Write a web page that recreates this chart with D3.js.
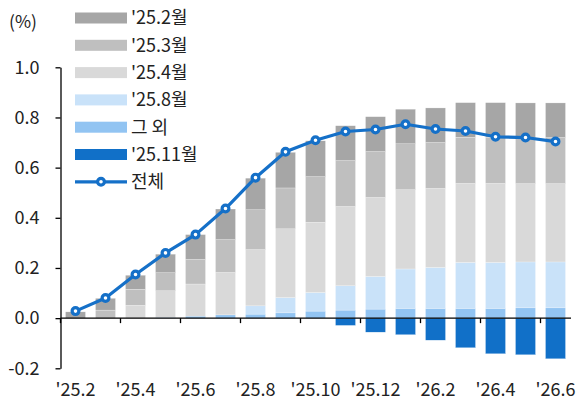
<!DOCTYPE html>
<html><head><meta charset="utf-8">
<script src="https://cdn.jsdelivr.net/npm/d3@7"></script>
<style>
html,body{margin:0;padding:0;background:#fff;}
svg{display:block;font-family:"Noto Sans CJK KR","Noto Sans",sans-serif;}
</style></head>
<body>
<svg id="chart" width="577" height="401"></svg>
<script>
const months = ["'25.2","'25.3","'25.4","'25.5","'25.6","'25.7","'25.8","'25.9","'25.10","'25.11","'25.12","'26.1","'26.2","'26.3","'26.4","'26.5","'26.6"];
const xTickLabels = ["'25.2","'25.4","'25.6","'25.8","'25.10","'25.12","'26.2","'26.4","'26.6"];
const yTicks = [-0.2, 0.0, 0.2, 0.4, 0.6, 0.8, 1.0];

const s2502 = [0.025,0.047,0.056,0.074,0.099,0.122,0.126,0.142,0.143,0.139,0.139,0.138,0.138,0.138,0.138,0.138,0.138];
const s2503 = [0,0.032,0.064,0.072,0.098,0.131,0.159,0.163,0.182,0.183,0.183,0.183,0.183,0.184,0.184,0.184,0.184];
const s2504 = [0,0,0.051,0.106,0.128,0.169,0.224,0.274,0.280,0.316,0.315,0.316,0.315,0.315,0.315,0.312,0.312];
const s2508 = [0,0,0,0,0,0,0.033,0.061,0.074,0.097,0.130,0.157,0.163,0.183,0.183,0.183,0.183];
const sOther = [0,0,0,0.003,0.008,0.013,0.016,0.021,0.028,0.032,0.036,0.039,0.039,0.039,0.039,0.041,0.041];
const s2511 = [0,0,0,0,0,0,0,0,0,-0.029,-0.056,-0.066,-0.088,-0.118,-0.142,-0.146,-0.162];
const total = [0.028,0.080,0.174,0.260,0.333,0.437,0.560,0.663,0.709,0.744,0.752,0.773,0.754,0.746,0.723,0.720,0.704];

const seriesNames = ["'25.2월","'25.3월","'25.4월","'25.8월","그 외","'25.11월"];
const seriesData = [s2502, s2503, s2504, s2508, sOther, s2511];
const colors = ["#a6a6a6","#bfbfbf","#d9d9d9","#c9e2f9","#92c4f2","#1170c8"];
const lineColor = "#1570c8";
const lineName = "전체";

const FS = 18;
const svg = d3.select("#chart");
const x = d3.scaleBand().domain(months).range([60.5, 570.5]).paddingInner(1/3).paddingOuter(1/6);
const y = d3.scaleLinear().domain([-0.2, 1.0]).range([368.3, 67.3]);

const table = months.map((m, i) => {
  const row = {month: m};
  seriesNames.forEach((n, k) => row[n] = seriesData[k][i]);
  return row;
});
const stackOrder = ["그 외","'25.8월","'25.4월","'25.3월","'25.2월","'25.11월"];
const stacked = d3.stack().keys(stackOrder).offset(d3.stackOffsetDiverging)(table);
const colorOf = n => colors[seriesNames.indexOf(n)];

const gBars = svg.append("g");
stacked.forEach(layer => {
  gBars.selectAll(null).data(layer).join("rect")
    .attr("x", d => x(d.data.month))
    .attr("width", x.bandwidth())
    .attr("y", d => y(Math.max(d[0], d[1])))
    .attr("height", d => Math.abs(y(d[0]) - y(d[1])))
    .attr("fill", colorOf(layer.key))
    .attr("stroke", "#fff").attr("stroke-width", 0.4).attr("stroke-opacity", 0.6);
});

// Y axis
const yAxis = d3.axisLeft(y).tickValues(yTicks).tickSize(5).tickSizeOuter(0).tickPadding(16)
  .tickFormat(v => v.toFixed(1));
const gy = svg.append("g").attr("transform", "translate(60.5,0)").call(yAxis);
gy.select(".domain").attr("stroke", "#000").attr("stroke-width", 1.3);
gy.selectAll(".tick line").attr("stroke", "#000").attr("stroke-width", 1.3);
gy.selectAll("text").attr("font-size", FS).attr("fill", "#222").attr("font-family", "'Noto Sans CJK KR'");

// X axis at zero
const y0 = y(0);
svg.append("line").attr("x1", 60.5).attr("x2", 571).attr("y1", y0).attr("y2", y0)
  .attr("stroke", "#000").attr("stroke-width", 1.3);
const gap = x.step() - x.bandwidth();
months.forEach((m, i) => {
  if (i % 2 === 0) {
    const bx = x(m) - gap / 2;
    svg.append("line").attr("x1", bx).attr("x2", bx).attr("y1", y0).attr("y2", y0 + 5)
      .attr("stroke", "#000").attr("stroke-width", 1.3);
  }
});
svg.append("g").selectAll("text").data(xTickLabels).join("text")
  .attr("x", d => x(d) + x.bandwidth() / 2)
  .attr("y", 396)
  .attr("text-anchor", "middle")
  .attr("font-size", FS).attr("fill", "#222")
  .text(d => d);

// Line
const cx = i => x(months[i]) + x.bandwidth() / 2;
const line = d3.line().x((d, i) => cx(i)).y(d => y(d));
svg.append("path").datum(total).attr("d", line)
  .attr("fill", "none").attr("stroke", lineColor).attr("stroke-width", 3.2).attr("stroke-linejoin", "round");
svg.append("g").selectAll("circle").data(total).join("circle")
  .attr("cx", (d, i) => cx(i)).attr("cy", d => y(d)).attr("r", 3.4)
  .attr("fill", "#fff").attr("stroke", lineColor).attr("stroke-width", 3.2);

// unit label
svg.append("text").attr("x", 9).attr("y", 28).attr("font-size", 17.5).attr("fill", "#222").text("(%)");

// Legend
const legY0 = 18, legDY = 27.3;
const gl = svg.append("g");
seriesNames.forEach((n, k) => {
  const yy = legY0 + k * legDY;
  gl.append("rect").attr("x", 75).attr("y", yy - 5.5).attr("width", 52).attr("height", 11).attr("fill", colors[k]);
  gl.append("text").attr("x", 131).attr("y", yy).attr("dy", "0.36em").attr("font-size", FS).attr("fill", "#222").text(n);
});
{
  const yy = legY0 + 6 * legDY;
  gl.append("line").attr("x1", 75).attr("x2", 127).attr("y1", yy).attr("y2", yy)
    .attr("stroke", lineColor).attr("stroke-width", 3.2);
  gl.append("circle").attr("cx", 101).attr("cy", yy).attr("r", 3.4)
    .attr("fill", "#fff").attr("stroke", lineColor).attr("stroke-width", 3.2);
  gl.append("text").attr("x", 131).attr("y", yy).attr("dy", "0.36em").attr("font-size", FS).attr("fill", "#222").text(lineName);
}
</script>
</body></html>
